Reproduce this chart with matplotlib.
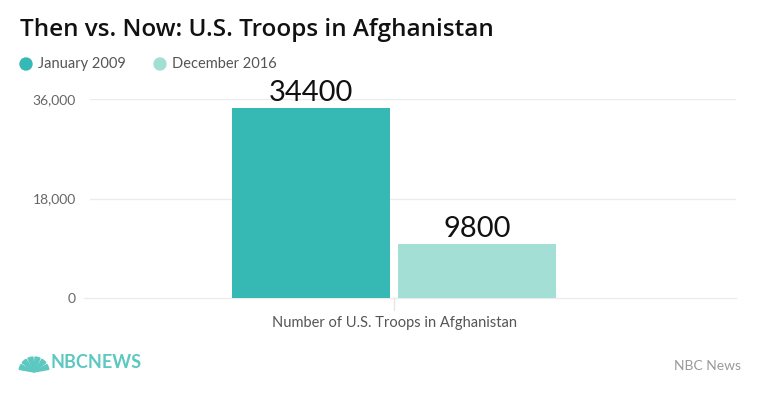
import numpy as np
import matplotlib.pyplot as plt
from matplotlib.patches import Wedge, Circle

# data
category = ["Number of U.S. Troops in Afghanistan"]
series_names = ["January 2009", "December 2016"]
series_values = [34400, 9800]
series_colors = ["#36b8b4", "#a3dfd4"]
y_ticks = [0, 18000, 36000]
y_tick_labels = ["0", "18,000", "36,000"]

plt.rcParams['font.family'] = ['Lato', 'DejaVu Sans']

fig = plt.figure(figsize=(7.6, 3.99), dpi=100)
ax = fig.add_axes([90/760, 1 - 298/399, 646/760, 199/399])

w = 0.4
gap = 0.02
offsets = [-(w + gap)/2, (w + gap)/2]
for off, v, c in zip(offsets, series_values, series_colors):
    ax.bar(off, v, width=w, color=c, zorder=3)
    ax.text(off, v + 300, str(v), ha='center', va='bottom', fontsize=21,
            color='#111111', clip_on=False, zorder=4)

ax.set_xlim(-304/395, 342/395)
ax.set_ylim(0, 36000)

for t in y_ticks[1:]:
    ax.axhline(t, color='#ececec', lw=1, zorder=1)
ax.plot([-310/395, 342/395], [0, 0], color='#ececec', lw=1, clip_on=False, zorder=2)
ax.plot([0, 0], [0, -2200], color='#e6e6e6', lw=1, clip_on=False)

ax.set_yticks(y_ticks)
ax.set_yticklabels(y_tick_labels, fontsize=10, color='#666666')
ax.tick_params(axis='y', length=0, pad=10)
ax.set_xticks([])
for s in ax.spines.values():
    s.set_visible(False)

ax.text(0, -3300, category[0], ha='center', va='top', fontsize=10.5, color='#555555')

# title
fig.text(20/760, 1 - 30/399, "Then vs. Now: U.S. Troops in Afghanistan",
         fontsize=17.5, fontweight='semibold', family=['Open Sans', 'DejaVu Sans'],
         color='#111111', va='center', ha='left')

# legend (pixel coordinates)
leg_x = [26, 160]
for lx, name, c in zip(leg_x, series_names, series_colors):
    fig.patches.append(Circle((lx, 399 - 64), 6, color=c, transform=None, figure=fig))
    fig.text((lx + 12)/760, 1 - 64/399, name, fontsize=10.5, color='#555555',
             va='center', ha='left')

# footer
fig.text(741/760, 1 - 366/399, "NBC News", fontsize=10, color='#999999',
         ha='right', va='center')
logo_c = "#5cc8c0"
for a in np.linspace(20, 160, 6):
    fig.patches.append(Wedge((34, 399 - 372), 15, a - 10, a + 10, color=logo_c,
                             transform=None, figure=fig))
fig.text(50/760, 1 - 363/399, "NBCNEWS", fontsize=13, fontweight='bold',
         color=logo_c, ha='left', va='center')

fig.savefig("out.png", dpi=100)
